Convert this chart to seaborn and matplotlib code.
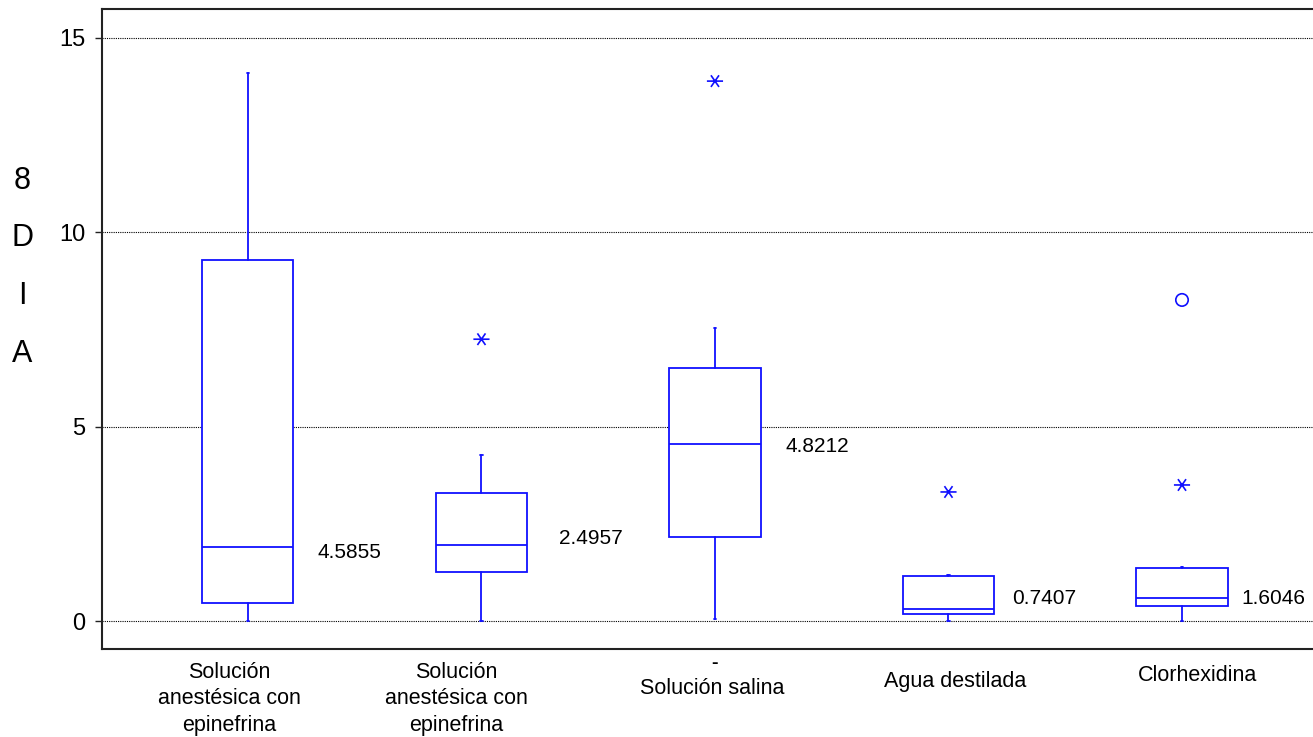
import matplotlib
matplotlib.use("Agg")
import matplotlib.pyplot as plt
from matplotlib.path import Path
import seaborn as sns

# ---------------- data ----------------
categories = [
    "Solución\nanestésica con\nepinefrina",
    "Solución\nanestésica con\nepinefrina",
    "Solución salina",
    "Agua destilada",
    "Clorhexidina",
]
whisker_low = [0.00, 0.00, 0.05, 0.00, 0.00]
q1 = [0.46, 1.26, 2.16, 0.18, 0.39]
median = [1.90, 1.96, 4.55, 0.31, 0.59]
q3 = [9.29, 3.29, 6.51, 1.16, 1.36]
whisker_high = [14.10, 4.27, 7.54, 1.18, 1.39]
means = [4.5855, 2.4957, 4.8212, 0.7407, 1.6046]

extreme_group = [1, 2, 3, 4]
extreme_value = [7.25, 13.89, 3.32, 3.50]
mild_group = [4]
mild_value = [8.26]

y_ticks = [0, 5, 10, 15]
y_title = ["8", "D", "I", "A"]

# ---------------- layout / style ----------------
BLUE = "#1010ff"
W, H = 1313, 737
sns.set_theme(style="white")
plt.rcParams["font.family"] = ["Liberation Sans", "DejaVu Sans"]

fig = plt.figure(figsize=(W / 100, H / 100), dpi=100)
ax = fig.add_axes([102 / W, 88 / H, 1 - 102 / W, 640 / H])

stats = [
    dict(whislo=whisker_low[i], q1=q1[i], med=median[i], q3=q3[i],
         whishi=whisker_high[i], label=categories[i])
    for i in range(len(categories))
]
ax.bxp(stats, positions=list(range(len(categories))), widths=0.39,
       showfliers=False, patch_artist=True, capwidths=0.012,
       boxprops=dict(facecolor="white", edgecolor=BLUE, linewidth=1.3),
       whiskerprops=dict(color=BLUE, linewidth=1.3),
       capprops=dict(color=BLUE, linewidth=1.3),
       medianprops=dict(color=BLUE, linewidth=1.3))

# asterisk marker (long horizontal bar + narrow X)
ast = Path([(-1, 0), (1, 0), (-0.5, -0.72), (0.5, 0.72), (-0.5, 0.72), (0.5, -0.72)],
           [Path.MOVETO, Path.LINETO, Path.MOVETO, Path.LINETO, Path.MOVETO, Path.LINETO])
sns.scatterplot(x=extreme_group, y=extreme_value, marker=ast, s=135,
                color=BLUE, edgecolor=BLUE, facecolor="none", linewidth=1.2,
                ax=ax, zorder=4, legend=False)
sns.scatterplot(x=mild_group, y=mild_value, marker="o", s=80,
                color=BLUE, edgecolor=BLUE, facecolor="none", linewidth=1.2,
                ax=ax, zorder=4, legend=False)

ax.set_xlim(-0.625, 4.561)
ax.set_ylim(-0.72, 15.745)
ax.set_xticks([])
ax.set_yticks(y_ticks)
ax.set_yticklabels([str(t) for t in y_ticks])
ax.tick_params(axis="y", left=True, length=5, width=1, color="#222222",
               pad=7, labelsize=17, labelcolor="black")
ax.set_axisbelow(True)
ax.yaxis.grid(True, linestyle=(0, (1, 1)), color="black", linewidth=0.8)
ax.xaxis.grid(False)
ax.spines["right"].set_visible(False)
for s in ["left", "bottom", "top"]:
    ax.spines[s].set_color("#222222")
    ax.spines[s].set_linewidth(1.5)
ax.set_xlabel("")
ax.set_ylabel("")

# mean labels
mean_dx = [0.30, 0.33, 0.304, 0.274, 0.253]
mean_y = [1.75, 2.11, 4.50, 0.59, 0.59]
for i, m in enumerate(means):
    ax.text(i + mean_dx[i], mean_y[i], f"{m:.4f}", fontsize=15,
            ha="left", va="center", color="black")

# category labels
cat_dx = [-0.08, -0.107, -0.01, 0.03, 0.065]
cat_y = [-0.078, -0.078, -0.061, -0.050, -0.042]
xt = ax.get_xaxis_transform()
for i, c in enumerate(categories):
    ax.text(i + cat_dx[i], cat_y[i], c, transform=xt, fontsize=15.5,
            ha="center", va="center", linespacing=1.35, color="black")
ax.text(2.0, -0.022, "-", transform=xt, fontsize=14, fontweight="bold",
        ha="center", va="center", color="black")

# vertical axis title, one letter per line
title_py = [181, 238, 296, 354]
for ch, py in zip(y_title, title_py):
    fig.text(22 / W, 1 - py / H, ch, fontsize=22, ha="center", va="center",
             color="black")

fig.savefig("out.png", dpi=100)
